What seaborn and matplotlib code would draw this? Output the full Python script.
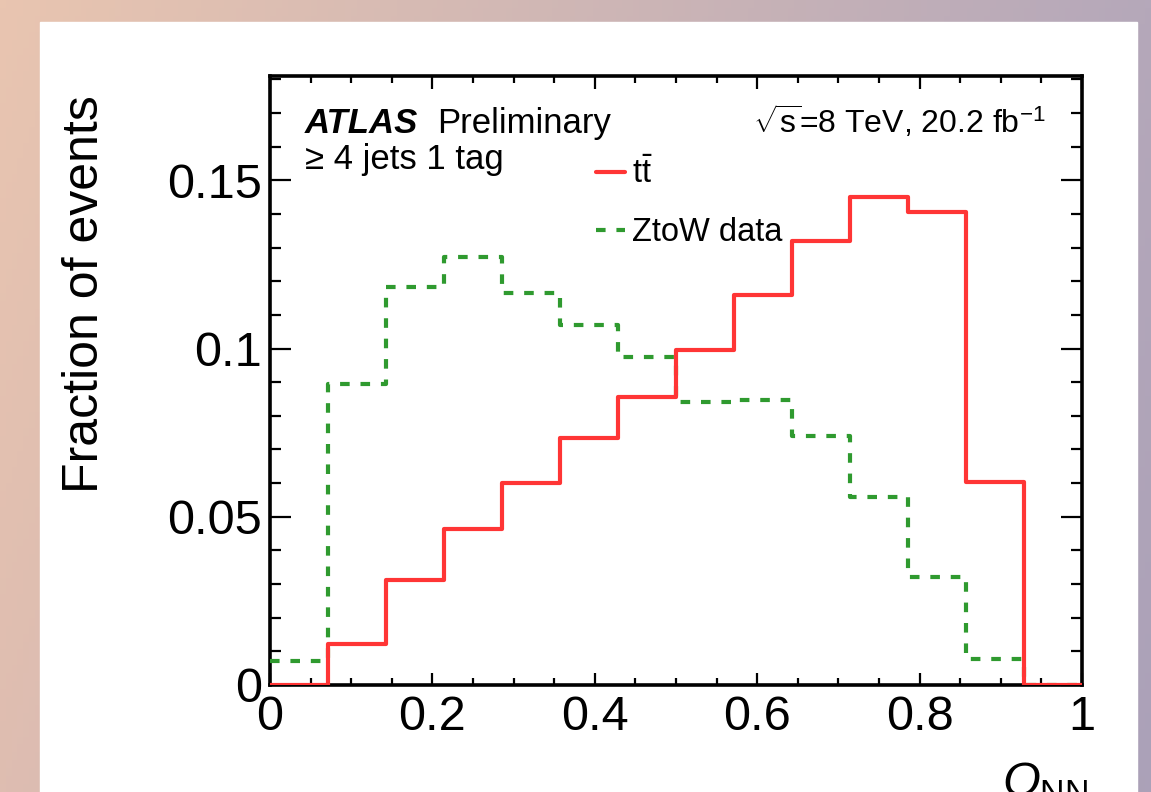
import numpy as np
import pandas as pd
import seaborn as sns
import matplotlib.pyplot as plt
from matplotlib.lines import Line2D
from matplotlib.patches import Rectangle
from matplotlib.ticker import MultipleLocator, FormatStrFormatter

# 14 equal bins in O_NN over [0, 1]
n_bins = 14
onn_range = (0.0, 1.0)
ttbar_frac = [0.0, 0.0121, 0.0311, 0.0464, 0.0601, 0.0735, 0.0855,
              0.0995, 0.1158, 0.1321, 0.1449, 0.1405, 0.0602, 0.0]
ztow_frac = [0.0072, 0.0896, 0.1184, 0.1273, 0.1166, 0.1071, 0.0975,
             0.0841, 0.0846, 0.0739, 0.0560, 0.0321, 0.0076, 0.0]
x_ticks = [0, 0.2, 0.4, 0.6, 0.8, 1]
y_ticks = [0, 0.05, 0.1, 0.15]

RED = "#ff3535"
GREEN = "#2f9a2f"
DASH = (0, (2.3, 2.6))

sns.set_style("ticks")
plt.rcParams["font.family"] = ["Liberation Sans", "DejaVu Sans"]
plt.rcParams["text.color"] = "black"
plt.rcParams["axes.labelcolor"] = "black"
plt.rcParams["mathtext.fontset"] = "custom"
plt.rcParams["mathtext.rm"] = "Liberation Sans"
plt.rcParams["mathtext.it"] = "Liberation Sans:italic"
plt.rcParams["mathtext.bf"] = "Liberation Sans:bold"

W, H = 1151, 792
fig = plt.figure(figsize=(W / 100, H / 100), dpi=100)

# gradient backdrop + white panel
bg = fig.add_axes([0, 0, 1, 1], zorder=-10)
tl, tr = np.array([233, 197, 176]), np.array([181, 168, 186])
bl, br = np.array([222, 189, 177]), np.array([171, 161, 184])
u = np.linspace(0, 1, 200)[None, :, None]
v = np.linspace(0, 1, 100)[:, None, None]
img = (1 - v) * ((1 - u) * tl + u * tr) + v * ((1 - u) * bl + u * br)
bg.imshow(img / 255.0, aspect="auto", extent=[0, 1, 0, 1])
bg.add_patch(Rectangle((40 / W, 0), (1137 - 40) / W, (H - 22) / H, color="white"))
bg.set_xlim(0, 1)
bg.set_ylim(0, 1)
bg.axis("off")

ax = fig.add_axes([270 / W, (H - 685) / H, (1082 - 270) / W, (685 - 76) / H])
ax.set_facecolor("white")

width = (onn_range[1] - onn_range[0]) / n_bins
centers = onn_range[0] + width * (np.arange(n_bins) + 0.5)
df = pd.DataFrame({"onn": centers, "ttbar": ttbar_frac, "ztow": ztow_frac})

sns.histplot(data=df, x="onn", weights="ztow", bins=n_bins, binrange=onn_range,
             element="step", fill=False, color=GREEN, linewidth=3.0,
             linestyle=DASH, zorder=3, ax=ax)
sns.histplot(data=df, x="onn", weights="ttbar", bins=n_bins, binrange=onn_range,
             element="step", fill=False, color=RED, linewidth=3.0, zorder=3.1, ax=ax)

ax.set_xlim(0, 1)
ax.set_ylim(0, 0.181)
ax.set_xlabel("")
ax.set_ylabel("")
ax.set_xticks(x_ticks)
ax.set_yticks(y_ticks)
ax.xaxis.set_major_formatter(FormatStrFormatter("%g"))
ax.yaxis.set_major_formatter(FormatStrFormatter("%g"))
ax.xaxis.set_minor_locator(MultipleLocator(0.05))
ax.yaxis.set_minor_locator(MultipleLocator(0.01))
for s in ax.spines.values():
    s.set_visible(True)
    s.set_linewidth(2.6)
    s.set_color("black")
ax.tick_params(which="both", direction="in", top=True, right=True, width=1.6,
               color="black", labelsize=35, labelcolor="black")
ax.tick_params(axis="x", which="major", length=9, pad=7)
ax.tick_params(axis="x", which="minor", length=5)
ax.tick_params(axis="y", which="major", length=15, pad=6)
ax.tick_params(axis="y", which="minor", length=8)

fig.text(85 / W, 1 - 95 / H, "Fraction of events", rotation=90, fontsize=36,
         ha="center", va="top", rotation_mode="default")
fig.text(1088 / W, 1 - 760 / H, r"$O_{\mathrm{NN}}$", fontsize=35,
         ha="right", va="top")

# annotations
ax.text(0.043, (685 - 133) / 609, "ATLAS", transform=ax.transAxes, fontsize=25,
        fontweight="bold", fontstyle="italic", va="baseline")
ax.text((437 - 270) / 812, (685 - 133) / 609, "Preliminary", transform=ax.transAxes,
        fontsize=25, va="baseline")
ax.text(0.043, (685 - 169) / 609, "\u2265 4 jets 1 tag", transform=ax.transAxes,
        fontsize=25, va="baseline")
ax.text((1046 - 270) / 812, (685 - 133) / 609,
        r"$\sqrt{\mathrm{s}}$=8 TeV, 20.2 fb$^{\mathrm{-1}}$",
        transform=ax.transAxes, fontsize=23, ha="right", va="baseline")

handles = [Line2D([], [], color=RED, linewidth=3.0),
           Line2D([], [], color=GREEN, linewidth=3.0, linestyle=DASH)]
ax.legend(handles, [r"t$\bar{\mathrm{t}}$", "ZtoW data"], loc="upper left",
          bbox_to_anchor=((596 - 270) / 812, (685 - 158) / 609), frameon=False,
          fontsize=23.5, handlelength=0.9, handletextpad=0.2, labelspacing=0.82,
          borderpad=0, borderaxespad=0)

fig.savefig("out.png", dpi=100)
